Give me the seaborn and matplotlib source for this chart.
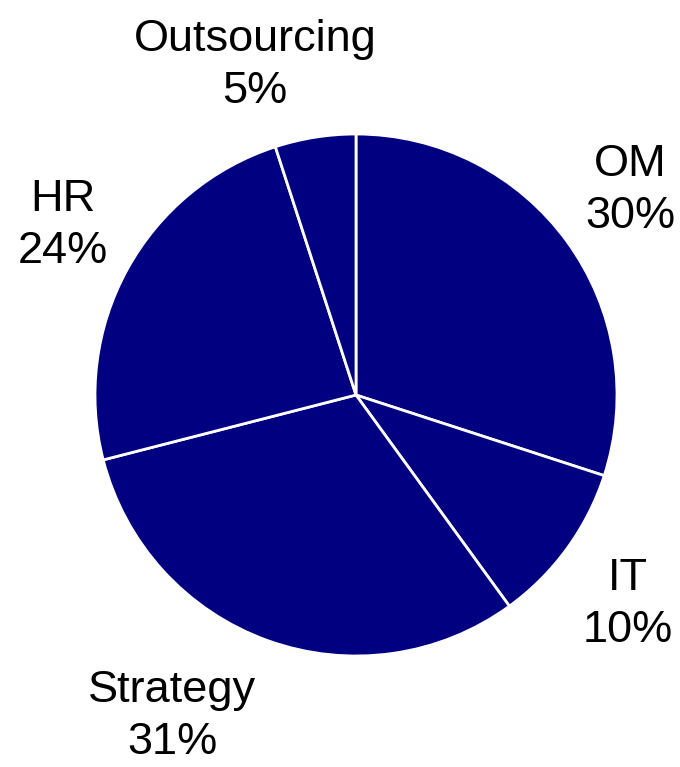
import matplotlib
matplotlib.use('Agg')
import seaborn as sns
import matplotlib.pyplot as plt

# Data
categories = ['OM', 'IT', 'Strategy', 'HR', 'Outsourcing']
shares = [30, 10, 31, 24, 5]

# small nudges for the labels (data units, pie radius = 1)
label_shift = [(-0.01, 0.015), (-0.018, -0.031), (-0.261, 0.0),
               (0.025, 0.017), (-0.182, -0.03)]

sns.set_style('white')
plt.rcParams['font.family'] = ['Liberation Sans', 'DejaVu Sans']

labels = [f'{c}\n{v}%' for c, v in zip(categories, shares)]

fig = plt.figure(figsize=(6.8, 7.67), dpi=100)
ax = fig.add_axes([0, 0, 1, 1])

wedges, texts = ax.pie(
    shares,
    labels=labels,
    colors=['#000080'] * len(shares),
    startangle=90,
    counterclock=False,
    labeldistance=1.31,
    wedgeprops={'edgecolor': 'white', 'linewidth': 2},
    textprops={'fontsize': 32.5, 'color': 'black'},
)

for t, (dx, dy) in zip(texts, label_shift):
    x, y = t.get_position()
    t.set_position((x + dx, y + dy))
    t.set_ha('center')
    t.set_va('center')
    t.set_linespacing(1.34)

# 1 unit of radius = 261 px, centre at (356, 395) px from top-left
ax.set_xlim(-356 / 261, 324 / 261)
ax.set_ylim(-372 / 261, 395 / 261)
ax.axis('off')

fig.savefig('out.png', dpi=100)
